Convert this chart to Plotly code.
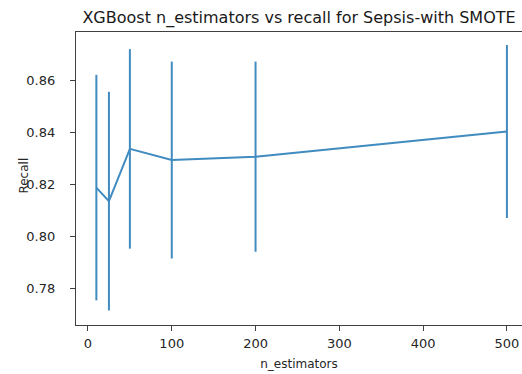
import plotly.graph_objects as go

n_estimators = [10, 25, 50, 100, 200, 500]
recall_mean = [0.8188, 0.8136, 0.8337, 0.8294, 0.8307, 0.8404]
recall_err = [0.0434, 0.0421, 0.0384, 0.0379, 0.0366, 0.0333]

BLUE = "#1f77b4"
FONT = "DejaVu Sans"

fig = go.Figure()
fig.add_trace(go.Scatter(
    x=n_estimators, y=recall_mean, mode="lines",
    line=dict(color=BLUE, width=2),
    opacity=0.85,
    error_y=dict(type="data", array=recall_err, visible=True,
                 color=BLUE, thickness=2, width=0),
    showlegend=False,
))

fig.update_layout(
    width=522, height=374,
    margin=dict(l=76, r=0, t=32, b=49),
    paper_bgcolor="white", plot_bgcolor="white",
    font=dict(family=FONT, size=13, color="#262626"),
    title=dict(text="XGBoost n_estimators vs recall for Sepsis-with SMOTE",
               x=0.5, xref="paper", xanchor="center",
               y=1 - 17/374, yanchor="middle",
               font=dict(family=FONT, size=16, color="#1a1a1a")),
    annotations=[dict(text="Recall", textangle=-90,
                      xref="paper", yref="paper",
                      x=(24 - 76) / 446, y=0.51,
                      xanchor="center", yanchor="middle",
                      showarrow=False,
                      font=dict(family=FONT, size=12, color="#262626"))],
)
fig.update_xaxes(
    range=[-14.3, 518], tickvals=[0, 100, 200, 300, 400, 500],
    showgrid=False, zeroline=False,
    showline=True, linecolor="#404040", linewidth=1.2, mirror=True,
    ticks="outside", ticklen=5, tickcolor="#404040", tickwidth=1.2,
    ticklabelstandoff=1,
    title=dict(text="n_estimators", standoff=9, font=dict(size=12)),
)
fig.update_yaxes(
    range=[0.7659, 0.8787], tickvals=[0.78, 0.80, 0.82, 0.84, 0.86],
    tickformat=".2f",
    showgrid=False, zeroline=False,
    showline=True, linecolor="#404040", linewidth=1.2,
    ticks="outside", ticklen=5, tickcolor="#404040", tickwidth=1.2,
    ticklabelstandoff=12,
)

fig.write_html("out.html")
